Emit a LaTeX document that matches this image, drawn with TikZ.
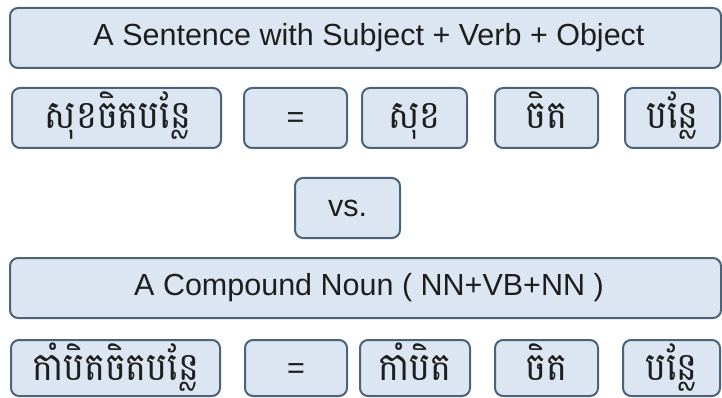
\documentclass[tikz,border=0pt]{standalone}
\usepackage{fontspec}
\setmainfont{Liberation Sans}
\newfontfamily\khmer[Script=Khmer]{Battambang}
\definecolor{boxfill}{HTML}{DCE6F2}
\definecolor{boxline}{HTML}{4C6378}
\definecolor{txt}{HTML}{1E1E1E}
\tikzset{
  cell/.style={draw=boxline, fill=boxfill, line width=2pt, rounded corners=8pt, text=txt},
  lat/.style={font=\fontsize{30.5}{34}\selectfont, text=txt},
  kh/.style={font=\khmer\fontsize{35}{40}\selectfont, text=txt, inner sep=0pt, anchor=base},
}
\newcommand{\kht}[1]{\scalebox{1}[1.12]{#1}}
\begin{document}
\begin{tikzpicture}[x=1pt,y=-1pt]
\useasboundingbox (0,0) rectangle (722,398);
% row 1
\path[cell] (10,8) rectangle (721,68);
\node[lat] (t1) at (369,38) {A Sentence with Subject + Verb + Object};
% row 2
\path[cell] (12,88) rectangle (221,148);
\node[kh] (a1) at (118,129) {\kht{សុខចិតបន្លែ}};
\path[cell] (244,88) rectangle (347,148);
\node[lat] (a2) at (295.5,120) {=};
\path[cell] (362,88) rectangle (467,148);
\node[kh] (a3) at (414.5,129) {\kht{សុខ}};
\path[cell] (495,88) rectangle (598,148);
\node[kh] (a4) at (546.5,129) {\kht{ចិត}};
\path[cell] (625,88) rectangle (720,148);
\node[kh] (a5) at (672.5,129) {\kht{បន្លែ}};
% vs
\path[cell] (295,178) rectangle (400,238);
\node[lat] (vs) at (347.5,208) {vs.};
% row 4
\path[cell] (10,258) rectangle (721,318);
\node[lat] (t2) at (369,288) {A Compound Noun ( NN+VB+NN )};
% row 5
\path[cell] (11,340) rectangle (220,396);
\node[kh] (b1) at (115.5,380) {\kht{កាំបិតចិតបន្លែ}};
\path[cell] (245,340) rectangle (347,396);
\node[lat] (b2) at (296,371) {=};
\path[cell] (360,340) rectangle (470,396);
\node[kh] (b3) at (415,380) {\kht{កាំបិត}};
\path[cell] (495,340) rectangle (598,396);
\node[kh] (b4) at (546.5,380) {\kht{ចិត}};
\path[cell] (623,340) rectangle (720,396);
\node[kh] (b5) at (671.5,380) {\kht{បន្លែ}};
\end{tikzpicture}
\end{document}
